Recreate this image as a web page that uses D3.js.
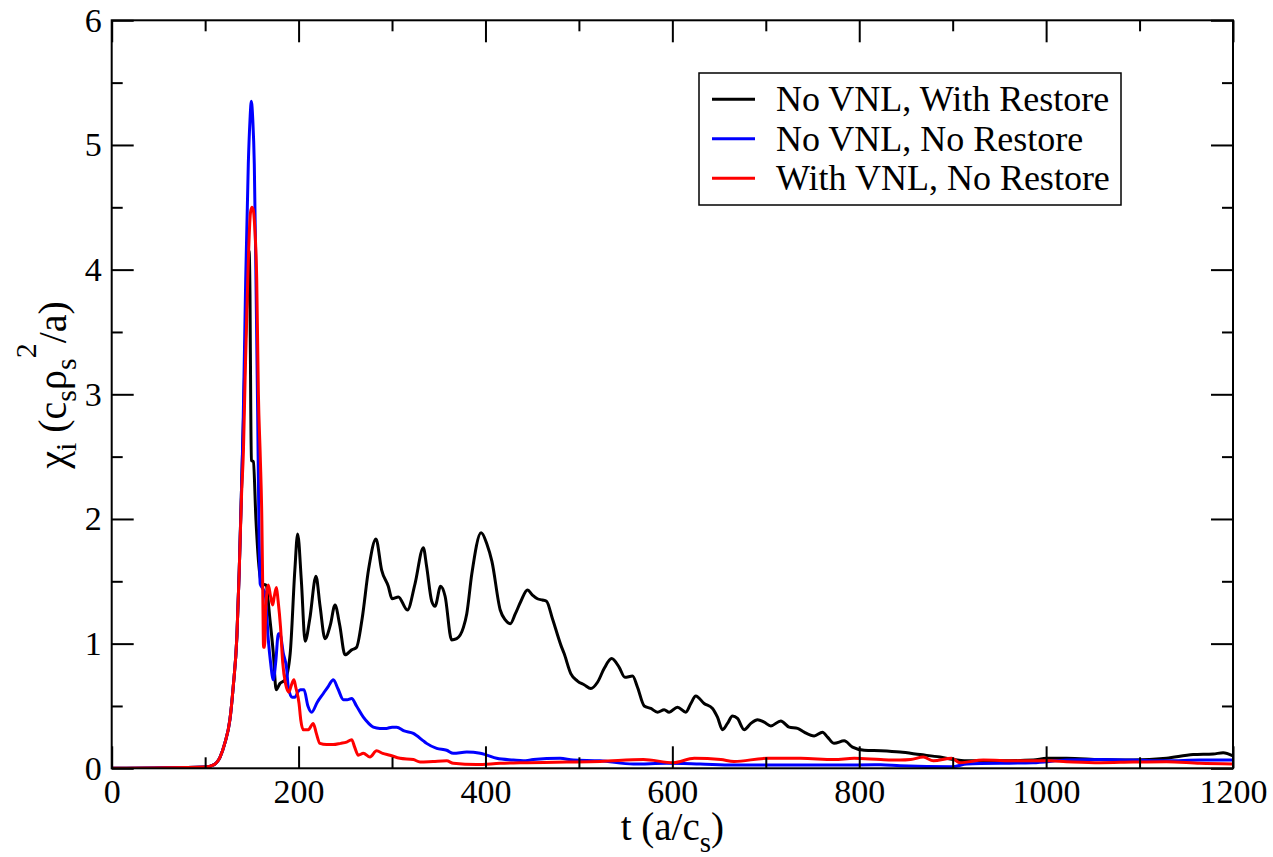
<!DOCTYPE html>
<html>
<head>
<meta charset="utf-8">
<script src="https://cdn.jsdelivr.net/npm/d3@7"></script>
<style>
  body { margin: 0; background: #fff; }
  svg { display: block; }
</style>
</head>
<body>
<svg width="1273" height="857" font-family="Liberation Serif" style="font-family: 'Liberation Serif'"></svg>
<script>
// series: time (a/c_s) and chi_i values
const blackT = [0, 100, 109, 116, 121, 126.5, 130, 134, 136.5, 139, 141, 143, 145.5, 147, 148, 148.8, 149.5, 151.6, 154.4, 157, 160.5, 165, 169.4, 173, 176, 180, 185.5, 191, 196, 199, 203, 207, 212, 218.6, 223, 228.3, 234, 239, 244, 249.7, 256.8, 262, 268, 275, 282.8, 288.9, 296, 300, 306.8, 316.4, 324.6, 333.5, 337, 342.5, 346, 352, 356.8, 363.8, 369.2, 376.4, 380, 385.4, 395.4, 401.5, 406.9, 415.8, 421.2, 426.6, 432, 437.9, 444.9, 450.3, 455.6, 461, 465.3, 471.7, 480.6, 484.2, 491.3, 498.5, 505.6, 512.8, 519.9, 527, 535, 543.1, 549.2, 557.4, 562.7, 569.9, 577, 584.1, 591.3, 596.6, 605.5, 614.4, 619.8, 625.1, 634, 643, 648.3, 653.7, 659, 664.4, 669.7, 676.9, 684, 691.2, 698.3, 705.4, 716.1, 725, 734, 741.1, 751.8, 760.7, 766.1, 773.2, 783.9, 792.8, 805.3, 823.2, 843.6, 865, 886.5, 900.7, 915, 950.6, 986.3, 1000.6, 1021.8, 1057.5, 1093, 1128.8, 1157.4, 1178.8, 1189.5, 1200];
const blackV = [0, 0.01, 0.027, 0.09, 0.2, 0.39, 0.65, 1.06, 1.59, 2.26, 2.8, 3.4, 3.95, 4.15, 3.8, 2.9, 2.47, 2.46, 1.99, 1.67, 1.48, 1.47, 1.19, 0.92, 0.63, 0.68, 0.71, 0.92, 1.59, 1.88, 1.5, 1.02, 1.2, 1.54, 1.3, 1.04, 1.15, 1.31, 1.15, 0.91, 0.95, 0.97, 1.2, 1.6, 1.84, 1.59, 1.46, 1.36, 1.375, 1.27, 1.48, 1.77, 1.62, 1.34, 1.3, 1.46, 1.38, 1.03, 1.04, 1.13, 1.24, 1.56, 1.89, 1.8, 1.66, 1.27, 1.19, 1.16, 1.24, 1.34, 1.43, 1.39, 1.36, 1.35, 1.34, 1.2, 0.99, 0.92, 0.76, 0.7, 0.67, 0.64, 0.69, 0.8, 0.88, 0.81, 0.73, 0.74, 0.65, 0.5, 0.48, 0.45, 0.47, 0.45, 0.49, 0.45, 0.52, 0.58, 0.52, 0.48, 0.41, 0.31, 0.36, 0.42, 0.4, 0.31, 0.36, 0.39, 0.37, 0.34, 0.38, 0.33, 0.32, 0.29, 0.26, 0.29, 0.25, 0.2, 0.22, 0.17, 0.145, 0.14, 0.13, 0.11, 0.09, 0.07, 0.06, 0.06, 0.066, 0.08, 0.08, 0.07, 0.066, 0.08, 0.11, 0.115, 0.125, 0.1];

const blueT = [0, 100, 109, 116, 121, 126.5, 130, 134, 136.5, 139, 140.5, 143.4, 146.2, 148, 149.4, 151, 152.6, 154.4, 156.2, 157.5, 158.9, 161, 164.2, 167.6, 170, 173, 175.5, 178.4, 180, 183.7, 187.2, 189, 193, 196, 200, 202, 205.8, 210, 214, 220, 226.5, 232, 237.2, 242, 248, 252, 256.8, 262, 269.3, 275, 280, 287, 294, 300, 305, 313, 322.8, 333.5, 337, 347.8, 358.5, 365.6, 380, 394.4, 400, 412, 429.8, 440.5, 451.2, 479.8, 494, 522.6, 558.3, 594, 629.7, 665.4, 701.1, 736.8, 773, 823, 843.6, 900.7, 915, 986, 1022, 1057.5, 1093, 1129, 1164.7, 1200];
const blueV = [0, 0.01, 0.027, 0.09, 0.2, 0.39, 0.65, 1.06, 1.59, 2.26, 2.7, 3.92, 4.85, 5.2, 5.35, 5.2, 4.85, 3.92, 2.86, 1.99, 1.48, 1.45, 1.4, 1.03, 0.85, 0.71, 0.85, 1.08, 1.08, 0.92, 0.8, 0.65, 0.57, 0.57, 0.62, 0.63, 0.63, 0.5, 0.45, 0.53, 0.6, 0.66, 0.71, 0.64, 0.55, 0.55, 0.56, 0.5, 0.41, 0.36, 0.33, 0.32, 0.32, 0.33, 0.33, 0.3, 0.28, 0.22, 0.2, 0.16, 0.145, 0.12, 0.13, 0.12, 0.11, 0.08, 0.066, 0.06, 0.07, 0.08, 0.066, 0.06, 0.034, 0.04, 0.034, 0.026, 0.026, 0.026, 0.026, 0.028, 0.02, 0.013, 0.035, 0.045, 0.066, 0.07, 0.066, 0.06, 0.066, 0.066];

const redT = [0, 100, 109, 116, 121, 126.5, 130, 134, 136.5, 139, 141, 143, 145.6, 148.4, 150, 151.5, 153, 155.2, 157, 159, 160.7, 161.7, 162.5, 163.5, 165, 167.6, 170, 172.3, 174, 176.3, 178, 180.7, 183, 186, 189.6, 192, 195, 197, 200.5, 202.3, 205, 210.4, 215.7, 219, 222.8, 230, 237, 245, 251.3, 256.8, 260, 263.9, 269.3, 276.4, 283.5, 290, 297.8, 308.5, 322.8, 330, 344, 358.5, 365.6, 390.5, 415.8, 444.4, 487, 522.6, 569, 601, 623.4, 651.9, 666, 701.7, 737.4, 773, 794.6, 823, 843.6, 855, 868.6, 879.3, 899, 907.8, 932.8, 968.5, 1000.6, 1021.8, 1057.5, 1093, 1128.8, 1164.7, 1200];
const redV = [0, 0.01, 0.027, 0.09, 0.2, 0.39, 0.65, 1.06, 1.59, 2.2, 2.55, 3.2, 3.92, 4.45, 4.5, 4.48, 4.35, 3.92, 3.0, 2.5, 1.99, 1.4, 0.97, 0.97, 1.3, 1.47, 1.38, 1.31, 1.38, 1.45, 1.35, 1.13, 0.85, 0.68, 0.61, 0.66, 0.71, 0.65, 0.52, 0.39, 0.31, 0.31, 0.36, 0.28, 0.2, 0.19, 0.19, 0.2, 0.21, 0.23, 0.17, 0.105, 0.12, 0.09, 0.14, 0.12, 0.105, 0.08, 0.07, 0.05, 0.055, 0.06, 0.04, 0.03, 0.04, 0.045, 0.05, 0.055, 0.07, 0.045, 0.08, 0.07, 0.055, 0.08, 0.08, 0.07, 0.08, 0.07, 0.066, 0.07, 0.09, 0.06, 0.08, 0.045, 0.066, 0.06, 0.06, 0.053, 0.045, 0.05, 0.053, 0.04, 0.035];

const seriesNames = ["No VNL, With Restore", "No VNL, No Restore", "With VNL, No Restore"];
const seriesColors = ["#000000", "#0000ff", "#ff0000"];

const xMajor = [0, 200, 400, 600, 800, 1000, 1200];
const xMinor = [100, 300, 500, 700, 900, 1100];
const yMajor = [0, 1, 2, 3, 4, 5, 6];
const yMinor = [0.5, 1.5, 2.5, 3.5, 4.5, 5.5];

const fontName = "'Liberation Serif'";

let svg = d3.select("svg");

let plotLeft = 111.7, plotRight = 1233, plotTop = 20.3, plotBottom = 768.3;

let x = d3.scaleLinear().domain([0, 1200]).range([plotLeft, plotRight]);
let y = d3.scaleLinear().domain([0, 6]).range([plotBottom, plotTop]);

svg.append("defs").append("clipPath")
    .attr("id", "plotclip")
    .append("rect")
    .attr("x", plotLeft).attr("y", plotTop)
    .attr("width", plotRight - plotLeft).attr("height", plotBottom - plotTop);

// curves
let line = d3.line()
    .x(d => x(d[0]))
    .y(d => y(d[1]))
    .curve(d3.curveMonotoneX);

let series = [
    d3.zip(blackT, blackV),
    d3.zip(blueT, blueV),
    d3.zip(redT, redV)
];

svg.append("g")
    .attr("clip-path", "url(#plotclip)")
    .selectAll("path")
    .data(series)
    .enter()
    .append("path")
    .attr("d", line)
    .attr("fill", "none")
    .attr("stroke", (d, i) => seriesColors[i])
    .attr("stroke-width", 3)
    .attr("stroke-linejoin", "round");

// axes, ticks pointing inward on all four sides
function styleAxis(g) {
    g.attr("font-family", null).attr("font-size", null);
    g.select(".domain").remove();
    g.selectAll(".tick line").attr("stroke", "#000").attr("stroke-width", 2);
    g.selectAll(".tick text")
        .style("font-family", fontName)
        .style("font-size", "34px")
        .attr("fill", "#000");
}

svg.append("g")
    .attr("transform", "translate(0," + plotBottom + ")")
    .call(d3.axisBottom(x).tickValues(xMajor).tickSize(-22).tickPadding(11).tickFormat(d3.format("d")))
    .call(styleAxis);
svg.append("g")
    .attr("transform", "translate(0," + plotBottom + ")")
    .call(d3.axisBottom(x).tickValues(xMinor).tickSize(-11).tickFormat(""))
    .call(styleAxis);
svg.append("g")
    .attr("transform", "translate(0," + plotTop + ")")
    .call(d3.axisTop(x).tickValues(xMajor).tickSize(-22).tickFormat(""))
    .call(styleAxis);
svg.append("g")
    .attr("transform", "translate(0," + plotTop + ")")
    .call(d3.axisTop(x).tickValues(xMinor).tickSize(-11).tickFormat(""))
    .call(styleAxis);

svg.append("g")
    .attr("transform", "translate(" + plotLeft + ",0)")
    .call(d3.axisLeft(y).tickValues(yMajor).tickSize(-22).tickPadding(10).tickFormat(d3.format("d")))
    .call(styleAxis);
svg.append("g")
    .attr("transform", "translate(" + plotLeft + ",0)")
    .call(d3.axisLeft(y).tickValues(yMinor).tickSize(-11).tickFormat(""))
    .call(styleAxis);
svg.append("g")
    .attr("transform", "translate(" + plotRight + ",0)")
    .call(d3.axisRight(y).tickValues(yMajor).tickSize(-22).tickFormat(""))
    .call(styleAxis);
svg.append("g")
    .attr("transform", "translate(" + plotRight + ",0)")
    .call(d3.axisRight(y).tickValues(yMinor).tickSize(-11).tickFormat(""))
    .call(styleAxis);

// frame
svg.append("rect")
    .attr("x", plotLeft).attr("y", plotTop)
    .attr("width", plotRight - plotLeft).attr("height", plotBottom - plotTop)
    .attr("fill", "none")
    .attr("stroke", "#000")
    .attr("stroke-width", 2);

// axis titles
let xt = svg.append("text")
    .attr("x", (plotLeft + plotRight) / 2)
    .attr("y", 840)
    .attr("text-anchor", "middle")
    .style("font-family", fontName)
    .style("font-size", "39px");
xt.append("tspan").text("t (a/c");
xt.append("tspan").attr("dy", 12).style("font-size", "29px").text("s");
xt.append("tspan").attr("dy", -12).text(")");

let yt = svg.append("text")
    .attr("transform", "translate(66,385) rotate(-90)")
    .attr("text-anchor", "middle")
    .style("font-family", fontName)
    .style("font-size", "40px");
yt.append("tspan").text("\u03c7");
yt.append("tspan").attr("dy", 10).style("font-size", "30px").text("i");
yt.append("tspan").attr("dy", -10).text(" (c");
yt.append("tspan").attr("dy", 10).style("font-size", "30px").text("s");
yt.append("tspan").attr("dy", -10).text("\u03c1");
yt.append("tspan").attr("dy", 10).style("font-size", "30px").text("s");
yt.append("tspan").attr("dy", -40).style("font-size", "30px").text("2");
yt.append("tspan").attr("dy", 30).text("/a)");

// legend
let legend = svg.append("g");
legend.append("rect")
    .attr("x", 699).attr("y", 73)
    .attr("width", 422).attr("height", 132)
    .attr("fill", "#fff")
    .attr("stroke", "#000")
    .attr("stroke-width", 1.5);

let rows = legend.selectAll("g.row")
    .data(seriesNames)
    .enter()
    .append("g")
    .attr("class", "row")
    .attr("transform", (d, i) => "translate(0," + (99.3 + i * 39.5) + ")");

rows.append("line")
    .attr("x1", 712).attr("x2", 755)
    .attr("y1", 0).attr("y2", 0)
    .attr("stroke", (d, i) => seriesColors[i])
    .attr("stroke-width", 3);

rows.append("text")
    .attr("x", 776)
    .attr("y", 12)
    .style("font-family", fontName)
    .style("font-size", "36px")
    .text(d => d);
</script>
</body>
</html>
